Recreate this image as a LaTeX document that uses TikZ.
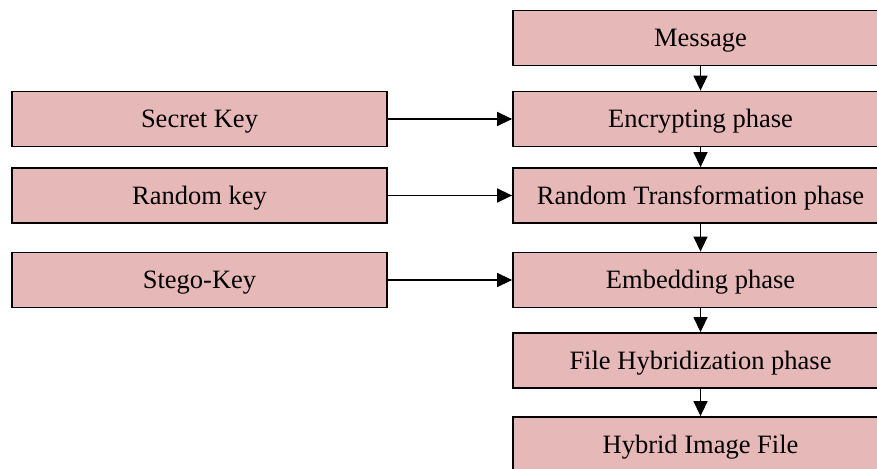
\documentclass[tikz,border=0pt]{standalone}
\usepackage{fontspec}
\setmainfont{Liberation Serif}
\usetikzlibrary{arrows.meta}
\definecolor{boxfill}{HTML}{E6B8B7}
\tikzset{
  stagebox/.style={draw=black, line width=1.8pt, fill=boxfill,
    minimum width=375pt, minimum height=55pt, inner sep=0pt,
    text height=17.5pt, text depth=0pt,
    font=\fontsize{26.5pt}{30pt}\selectfont},
  flow/.style={line width=1.5pt, -{Triangle[length=15pt,width=14pt]}}
}
\begin{document}
\begin{tikzpicture}[x=1pt,y=-1pt]
  \useasboundingbox (0,0) rectangle (877,468);
  % main processing chain
  \node[stagebox] (msg)  at (700.5,38)    {Message};
  \node[stagebox] (enc)  at (700.5,119)   {Encrypting phase};
  \node[stagebox] (rtp)  at (700.5,195.5) {Random Transformation phase};
  \node[stagebox] (emb)  at (700.5,280)   {Embedding phase};
  \node[stagebox] (hyb)  at (700.5,360.5) {File Hybridization phase};
  \node[stagebox] (out)  at (700.5,444.5) {Hybrid Image File};
  % key inputs
  \node[stagebox] (sk)   at (199.5,119)   {Secret Key};
  \node[stagebox] (rk)   at (199.5,195.5) {Random key};
  \node[stagebox] (stk)  at (199.5,280)   {Stego-Key};
  % connectors
  \draw[flow] (msg) -- (enc);
  \draw[flow] (enc) -- (rtp);
  \draw[flow] (rtp) -- (emb);
  \draw[flow] (emb) -- (hyb);
  \draw[flow] (hyb) -- (out);
  \draw[flow] (sk)  -- (enc);
  \draw[flow] (rk)  -- (rtp);
  \draw[flow] (stk) -- (emb);
\end{tikzpicture}
\end{document}
